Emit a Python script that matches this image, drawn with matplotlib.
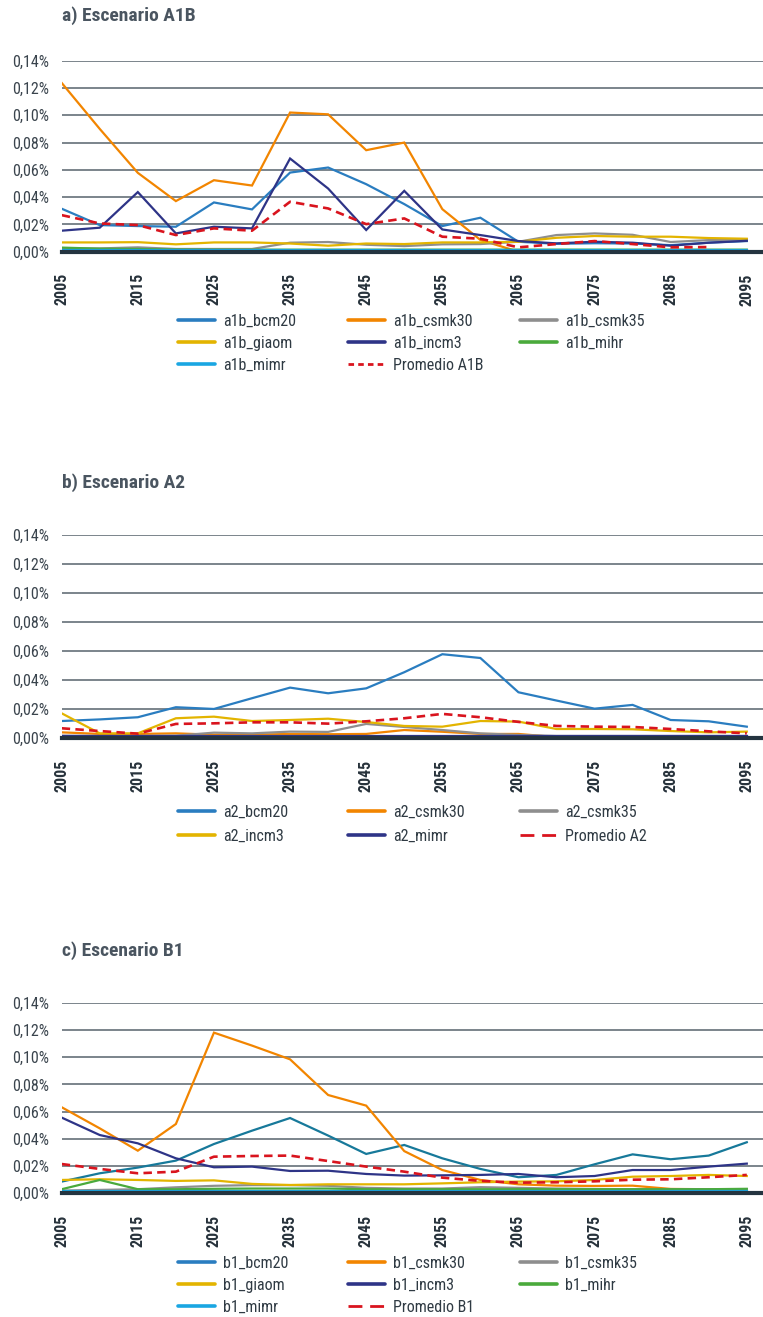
import numpy as np
import matplotlib
matplotlib.use("Agg")
import matplotlib.pyplot as plt
from matplotlib.lines import Line2D
from matplotlib import font_manager

# ---------------- data ----------------
years = [2005, 2010, 2015, 2020, 2025, 2030, 2035, 2040, 2045, 2050,
         2055, 2060, 2065, 2070, 2075, 2080, 2085, 2090, 2095]
tick_years = [2005, 2015, 2025, 2035, 2045, 2055, 2065, 2075, 2085, 2095]

# Panel a) Escenario A1B  (values in %)
a1b_bcm20 = [0.0315, 0.0195, 0.0188, 0.0183, 0.0361, 0.0310, 0.0580, 0.0617, 0.0495, 0.0349,
             0.0188, 0.0249, 0.0073, 0.0058, 0.0062, 0.0060, 0.0048, 0.0066, 0.0078]
a1b_csmk30 = [0.1237, 0.0900, 0.0578, 0.0371, 0.0524, 0.0485, 0.1020, 0.1007, 0.0744, 0.0800,
              0.0312, 0.0086, 0.0000, 0.0000, 0.0000, 0.0000, 0.0000, 0.0000, 0.0000]
a1b_csmk35 = [0.0024, 0.0024, 0.0032, 0.0020, 0.0020, 0.0020, 0.0066, 0.0071, 0.0051, 0.0041,
              0.0054, 0.0056, 0.0073, 0.0122, 0.0134, 0.0124, 0.0071, 0.0085, 0.0090]
a1b_giaom = [0.0068, 0.0068, 0.0070, 0.0054, 0.0068, 0.0068, 0.0060, 0.0044, 0.0060, 0.0056,
             0.0068, 0.0068, 0.0073, 0.0102, 0.0115, 0.0110, 0.0110, 0.0100, 0.0095]
a1b_incm3 = [0.0154, 0.0176, 0.0437, 0.0134, 0.0183, 0.0171, 0.0683, 0.0463, 0.0159, 0.0446,
             0.0163, 0.0122, 0.0078, 0.0061, 0.0073, 0.0066, 0.0044, 0.0066, 0.0080]
a1b_mihr = [0.0030, 0.0022, 0.0020, 0.0016, 0.0015, 0.0015, 0.0015, 0.0015, 0.0015, 0.0015,
            0.0015, 0.0015, 0.0015, 0.0015, 0.0015, 0.0015, 0.0015, 0.0015, 0.0015]
a1b_mimr = [0.0012, 0.0012, 0.0012, 0.0012, 0.0012, 0.0012, 0.0012, 0.0012, 0.0012, 0.0012,
            0.0012, 0.0012, 0.0012, 0.0012, 0.0012, 0.0012, 0.0012, 0.0012, 0.0012]
prom_a1b = [0.0268, 0.0207, 0.0195, 0.0122, 0.0171, 0.0154, 0.0366, 0.0317, 0.0202, 0.0244,
            0.0110, 0.0095, 0.0032, 0.0056, 0.0078, 0.0056, 0.0032, 0.0034, np.nan]

# Panel b) Escenario A2
a2_bcm20 = [0.0119, 0.0130, 0.0145, 0.0214, 0.0202, 0.0276, 0.0349, 0.0310, 0.0344, 0.0455,
            0.0579, 0.0553, 0.0317, 0.0260, 0.0204, 0.0230, 0.0126, 0.0117, 0.0080]
a2_csmk30 = [0.0041, 0.0030, 0.0030, 0.0034, 0.0025, 0.0025, 0.0030, 0.0028, 0.0030, 0.0057,
             0.0045, 0.0030, 0.0030, 0.0008, 0.0008, 0.0008, 0.0008, 0.0008, 0.0008]
a2_csmk35 = [0.0018, 0.0016, 0.0016, 0.0018, 0.0039, 0.0034, 0.0046, 0.0044, 0.0099, 0.0078,
             0.0057, 0.0034, 0.0023, 0.0016, 0.0016, 0.0016, 0.0016, 0.0016, 0.0016]
a2_incm3 = [0.0172, 0.0034, 0.0034, 0.0138, 0.0149, 0.0119, 0.0126, 0.0135, 0.0112, 0.0085,
            0.0080, 0.0119, 0.0115, 0.0064, 0.0064, 0.0062, 0.0050, 0.0041, 0.0046]
a2_mimr = [0.0014, 0.0014, 0.0014, 0.0014, 0.0014, 0.0014, 0.0014, 0.0014, 0.0014, 0.0014,
           0.0014, 0.0014, 0.0014, 0.0014, 0.0014, 0.0014, 0.0014, 0.0014, 0.0014]
prom_a2 = [0.0069, 0.0050, 0.0032, 0.0099, 0.0103, 0.0110, 0.0110, 0.0101, 0.0117, 0.0138,
           0.0168, 0.0145, 0.0113, 0.0085, 0.0080, 0.0078, 0.0064, 0.0048, 0.0034]

# Panel c) Escenario B1
b1_bcm20 = [0.0086, 0.0147, 0.0189, 0.0240, 0.0362, 0.0460, 0.0553, 0.0424, 0.0289, 0.0355,
            0.0257, 0.0179, 0.0118, 0.0135, 0.0213, 0.0286, 0.0250, 0.0277, 0.0375]
b1_csmk30 = [0.0632, 0.0477, 0.0313, 0.0509, 0.1180, 0.1085, 0.0984, 0.0722, 0.0644, 0.0310,
             0.0171, 0.0098, 0.0066, 0.0056, 0.0054, 0.0056, 0.0032, 0.0030, 0.0030]
b1_csmk35 = [0.0020, 0.0025, 0.0030, 0.0044, 0.0055, 0.0060, 0.0060, 0.0055, 0.0040, 0.0035,
             0.0035, 0.0045, 0.0040, 0.0035, 0.0032, 0.0030, 0.0030, 0.0030, 0.0030]
b1_giaom = [0.0098, 0.0103, 0.0098, 0.0091, 0.0095, 0.0069, 0.0061, 0.0066, 0.0066, 0.0066,
            0.0073, 0.0081, 0.0086, 0.0088, 0.0098, 0.0122, 0.0127, 0.0135, 0.0127]
b1_incm3 = [0.0556, 0.0428, 0.0367, 0.0257, 0.0191, 0.0196, 0.0164, 0.0166, 0.0142, 0.0130,
            0.0132, 0.0135, 0.0142, 0.0118, 0.0127, 0.0171, 0.0171, 0.0196, 0.0218]
b1_mihr = [0.0030, 0.0098, 0.0030, 0.0030, 0.0033, 0.0035, 0.0035, 0.0035, 0.0030, 0.0030,
           0.0030, 0.0030, 0.0030, 0.0030, 0.0030, 0.0030, 0.0030, 0.0030, 0.0033]
b1_mimr = [0.0017, 0.0017, 0.0017, 0.0017, 0.0017, 0.0017, 0.0017, 0.0017, 0.0017, 0.0017,
           0.0017, 0.0017, 0.0017, 0.0017, 0.0017, 0.0017, 0.0017, 0.0017, 0.0017]
prom_b1 = [0.0215, 0.0179, 0.0147, 0.0159, 0.0269, 0.0274, 0.0277, 0.0237, 0.0196, 0.0159,
           0.0115, 0.0091, 0.0078, 0.0081, 0.0088, 0.0100, 0.0103, 0.0118, 0.0135]

# ---------------- style ----------------
C_BLUE = "#2a7dc0"
C_TEAL = "#17799a"
C_ORANGE = "#f28500"
C_GRAY = "#8e8e8e"
C_YELLOW = "#e3b400"
C_NAVY = "#2e3487"
C_GREEN = "#4aaa3c"
C_LBLUE = "#1aa6e2"
C_RED = "#d9141e"
C_TEXT = "#3a444d"
C_AXIS = "#243440"
C_GRID = "#57636c"

avail = {f.name for f in font_manager.fontManager.ttflist}
cands = ["Liberation Sans Narrow", "Roboto Condensed", "Open Sans Condensed",
         "Noto Sans", "Liberation Sans"]
FONT = next((c for c in cands if c in avail), "DejaVu Sans")
plt.rcParams["font.family"] = [FONT, "DejaVu Sans"]

FS_TICK = 11.5
FS_LEG = 11.5
FS_TITLE = 14

W, H = 763, 1317
fig = plt.figure(figsize=(W / 100, H / 100), dpi=100)

def fx(px):
    return px / W

def fy(py):
    return 1 - py / H

panels = [
    dict(title="a) Escenario A1B", title_y=16, top=60.7, bottom=251.7,
         series=[("a1b_bcm20", a1b_bcm20, C_BLUE, C_BLUE),
                 ("a1b_csmk30", a1b_csmk30, C_ORANGE, C_ORANGE),
                 ("a1b_csmk35", a1b_csmk35, C_GRAY, C_GRAY),
                 ("a1b_giaom", a1b_giaom, C_YELLOW, C_YELLOW),
                 ("a1b_incm3", a1b_incm3, C_NAVY, C_NAVY),
                 ("a1b_mihr", a1b_mihr, C_GREEN, C_GREEN),
                 ("a1b_mimr", a1b_mimr, C_LBLUE, C_LBLUE)],
         prom=("Promedio A1B", prom_a1b), leg_dash=(2.0, 1.5),
         leg_y=320, leg_dy=22),
    dict(title="b) Escenario A2", title_y=483, top=535.0, bottom=738.3,
         series=[("a2_bcm20", a2_bcm20, C_BLUE, C_BLUE),
                 ("a2_csmk30", a2_csmk30, C_ORANGE, C_ORANGE),
                 ("a2_csmk35", a2_csmk35, C_GRAY, C_GRAY),
                 ("a2_incm3", a2_incm3, C_YELLOW, C_YELLOW),
                 ("a2_mimr", a2_mimr, C_NAVY, C_NAVY)],
         prom=("Promedio A2", prom_a2), leg_dash=(5.0, 2.8),
         leg_y=810.7, leg_dy=24),
    dict(title="c) Escenario B1", title_y=951, top=1002.7, bottom=1193.3,
         series=[("b1_bcm20", b1_bcm20, C_TEAL, C_BLUE),
                 ("b1_csmk30", b1_csmk30, C_ORANGE, C_ORANGE),
                 ("b1_csmk35", b1_csmk35, C_GRAY, C_GRAY),
                 ("b1_giaom", b1_giaom, C_YELLOW, C_YELLOW),
                 ("b1_incm3", b1_incm3, C_NAVY, C_NAVY),
                 ("b1_mihr", b1_mihr, C_GREEN, C_GREEN),
                 ("b1_mimr", b1_mimr, C_LBLUE, C_LBLUE)],
         prom=("Promedio B1", prom_b1), leg_dash=(5.0, 2.8),
         leg_y=1261.7, leg_dy=22),
]

AX_LEFT = 61.7
X_RIGHT = 2095 + (763 - 746.8) / 38.06 * 5

col_handle_x = [178.3, 348.3, 520.0]
fs_px = FS_LEG * 100 / 72.0
TXT_H = 15.0  # approx. legend text row height in px

for p in panels:
    ax = fig.add_axes([fx(AX_LEFT), fy(p["bottom"]), 1 - fx(AX_LEFT),
                       (p["bottom"] - p["top"]) / H])
    handles = []
    for name, vals, col, legcol in p["series"]:
        ax.plot(years, vals, color=col, lw=1.6, solid_joinstyle="miter", zorder=3)
        handles.append(Line2D([], [], color=legcol, lw=2.6, solid_capstyle="round"))
    pname, pvals = p["prom"]
    ax.plot(years, pvals, color=C_RED, lw=1.9, dashes=(3.2, 2.0), zorder=4)
    handles.append(Line2D([], [], color=C_RED, lw=2.0, dashes=p["leg_dash"]))
    labels = [s[0] for s in p["series"]] + [pname]

    ax.set_xlim(2005, X_RIGHT)
    ax.set_ylim(0, 0.14)
    ax.set_yticks([0.0, 0.02, 0.04, 0.06, 0.08, 0.10, 0.12, 0.14])
    ax.set_yticklabels([f"{v:.2f}%".replace(".", ",") for v in ax.get_yticks()])
    ax.set_xticks(tick_years)
    ax.set_xticklabels([str(y) for y in tick_years], rotation=90,
                       fontweight="bold", fontsize=FS_TICK, color="#27323b")
    ax.tick_params(axis="y", length=0, pad=9.0, labelsize=FS_TICK, labelcolor=C_TEXT)
    ax.tick_params(axis="x", length=0, pad=15.5)
    ax.grid(axis="y", color=C_GRID, lw=1.1, zorder=1)
    ax.set_axisbelow(True)
    for s in ("top", "right", "left"):
        ax.spines[s].set_visible(False)
    ax.spines["bottom"].set_color(C_AXIS)
    ax.spines["bottom"].set_linewidth(3.0)
    ax.spines["bottom"].set_zorder(5)

    fig.text(fx(62), fy(p["title_y"]), p["title"], fontsize=FS_TITLE,
             fontweight="bold", color="#4a5560", va="center", ha="left")

    # legend: three columns, row-major order
    for c in range(3):
        hs = handles[c::3]
        ls = labels[c::3]
        if not hs:
            continue
        row_h = p["leg_dy"]
        fig.legend(hs, ls, loc="upper left",
                   bbox_to_anchor=(fx(col_handle_x[c]), fy(p["leg_y"] - 6.0)),
                   frameon=False, fontsize=FS_LEG, handlelength=37 / fs_px,
                   handletextpad=8 / fs_px,
                   borderpad=0, borderaxespad=0,
                   labelspacing=(row_h - TXT_H) / fs_px, labelcolor="#2f3a43")

fig.savefig("out.png", dpi=100)
